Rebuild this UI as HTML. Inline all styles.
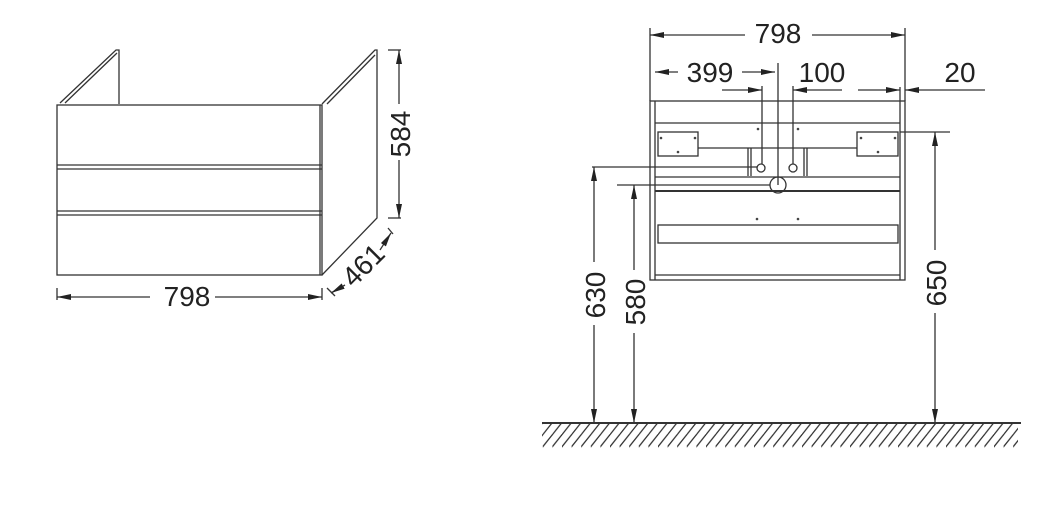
<!DOCTYPE html>
<html><head><style>
html,body{margin:0;padding:0;background:#fff;}
svg{display:block;}
text{font-family:"Liberation Sans",sans-serif;fill:#222;}
</style></head><body>
<svg width="1051" height="518" viewBox="0 0 1051 518" xmlns="http://www.w3.org/2000/svg">
<defs>
<marker id="a" markerWidth="14" markerHeight="6" refX="14" refY="3" orient="auto" markerUnits="userSpaceOnUse">
<path d="M0,0 L14,3 L0,6 z" fill="#222"/></marker>
<pattern id="hp" x="562" y="423" width="9.6" height="25" patternUnits="userSpaceOnUse">
<line x1="9.6" y1="-0.5" x2="-11" y2="25.5" stroke="#333" stroke-width="1.3"/>
<line x1="19.2" y1="-0.5" x2="-1.4" y2="25.5" stroke="#333" stroke-width="1.3"/>
<line x1="0" y1="-0.5" x2="-20.6" y2="25.5" stroke="#333" stroke-width="1.3"/>
</pattern>
</defs>
<rect x="542" y="424" width="476" height="24" fill="url(#hp)"/>
<g stroke="#333" fill="none" stroke-width="1.3">
<rect x="57" y="105" width="265" height="170"/>
<line x1="57" y1="165" x2="322" y2="165"/><line x1="57" y1="169" x2="322" y2="169"/>
<line x1="57" y1="211" x2="322" y2="211"/><line x1="57" y1="215" x2="322" y2="215"/>
<line x1="320" y1="105" x2="320" y2="275"/>
<polyline points="60,103 116,50 119,50 119,104"/>
<line x1="65" y1="103" x2="117" y2="53"/>
<polyline points="322,104 375,50 377,50 377,218 322,275"/>
<line x1="327" y1="104" x2="375" y2="55"/>
<polyline points="388,50 401,50"/><polyline points="388,218 401,218"/>
<line x1="399" y1="104" x2="399" y2="50" marker-end="url(#a)"/>
<line x1="399" y1="160" x2="399" y2="218" marker-end="url(#a)"/>
<line x1="57" y1="288" x2="57" y2="300"/><line x1="322" y1="288" x2="322" y2="300"/>
<line x1="150" y1="297" x2="57" y2="297" marker-end="url(#a)"/>
<line x1="215" y1="297" x2="322" y2="297" marker-end="url(#a)"/>
<line x1="327" y1="288" x2="335" y2="296"/><line x1="388" y1="228" x2="393" y2="234"/>
<line x1="345" y1="285" x2="331" y2="293" marker-end="url(#a)"/>
<line x1="380" y1="250" x2="391" y2="233" marker-end="url(#a)"/>
<rect x="650" y="101" width="255" height="179"/>
<line x1="655" y1="101" x2="655" y2="280"/><line x1="900" y1="101" x2="900" y2="280"/>
<line x1="655" y1="123" x2="900" y2="123"/>
<line x1="698" y1="148" x2="857" y2="148"/>
<rect x="658" y="132" width="40" height="24"/><rect x="857" y="132" width="41" height="24"/>
<line x1="748" y1="148" x2="748" y2="176"/><line x1="751" y1="148" x2="751" y2="176"/>
<line x1="804" y1="148" x2="804" y2="176"/><line x1="807" y1="148" x2="807" y2="176"/>
<line x1="655" y1="177" x2="900" y2="177"/>
<line x1="655" y1="191" x2="900" y2="191" stroke-width="2"/>
<rect x="658" y="225" width="240" height="18"/>
<line x1="655" y1="275" x2="900" y2="275"/>
<circle cx="761" cy="168" r="4"/><circle cx="793" cy="168" r="4"/><circle cx="778" cy="185" r="8"/>
<line x1="592" y1="167" x2="757" y2="167"/>
<line x1="617" y1="185" x2="770" y2="185"/>
<line x1="778" y1="63" x2="778" y2="185"/>
<line x1="762" y1="86" x2="762" y2="164"/><line x1="793" y1="86" x2="793" y2="164"/>
<line x1="900" y1="87" x2="900" y2="101"/>
<line x1="650" y1="28" x2="650" y2="101"/><line x1="905" y1="28" x2="905" y2="101"/>
<line x1="745" y1="35" x2="650" y2="35" marker-end="url(#a)"/>
<line x1="812" y1="35" x2="905" y2="35" marker-end="url(#a)"/>
<line x1="678" y1="72" x2="655" y2="72" marker-end="url(#a)"/>
<line x1="742" y1="72" x2="775" y2="72" marker-end="url(#a)"/>
<line x1="722" y1="90" x2="762" y2="90" marker-end="url(#a)"/>
<line x1="842" y1="90" x2="793" y2="90" marker-end="url(#a)"/>
<line x1="858" y1="90" x2="900" y2="90" marker-end="url(#a)"/>
<line x1="985" y1="90" x2="905" y2="90" marker-end="url(#a)"/>
<line x1="900" y1="132" x2="950" y2="132"/>
<line x1="594" y1="262" x2="594" y2="167" marker-end="url(#a)"/>
<line x1="594" y1="325" x2="594" y2="423" marker-end="url(#a)"/>
<line x1="634" y1="270" x2="634" y2="185" marker-end="url(#a)"/>
<line x1="634" y1="333" x2="634" y2="423" marker-end="url(#a)"/>
<line x1="935" y1="250" x2="935" y2="132" marker-end="url(#a)"/>
<line x1="935" y1="313" x2="935" y2="423" marker-end="url(#a)"/>
<line x1="542" y1="423" x2="1021" y2="423" stroke-width="2"/>
</g>
<g fill="#444">
<circle cx="758" cy="129" r="1.3"/><circle cx="798" cy="129" r="1.3"/>
<circle cx="661" cy="138" r="1.3"/><circle cx="695" cy="138" r="1.3"/><circle cx="678" cy="152" r="1.3"/>
<circle cx="861" cy="138" r="1.3"/><circle cx="895" cy="138" r="1.3"/><circle cx="878" cy="152" r="1.3"/>
<circle cx="757" cy="219" r="1.3"/><circle cx="798" cy="219" r="1.3"/>
</g>
<text x="187" y="306" font-size="28" text-anchor="middle">798</text>
<text transform="translate(410,134) rotate(-90)" font-size="28" text-anchor="middle">584</text>
<text transform="translate(370,272) rotate(-45)" font-size="28" text-anchor="middle">461</text>
<text x="778" y="43" font-size="28" text-anchor="middle">798</text>
<text x="710" y="82" font-size="28" text-anchor="middle">399</text>
<text x="822" y="82" font-size="28" text-anchor="middle">100</text>
<text x="960" y="82" font-size="28" text-anchor="middle">20</text>
<text transform="translate(605,295) rotate(-90)" font-size="28" text-anchor="middle">630</text>
<text transform="translate(645,302) rotate(-90)" font-size="28" text-anchor="middle">580</text>
<text transform="translate(946,283) rotate(-90)" font-size="28" text-anchor="middle">650</text>
</svg>
</body></html>
